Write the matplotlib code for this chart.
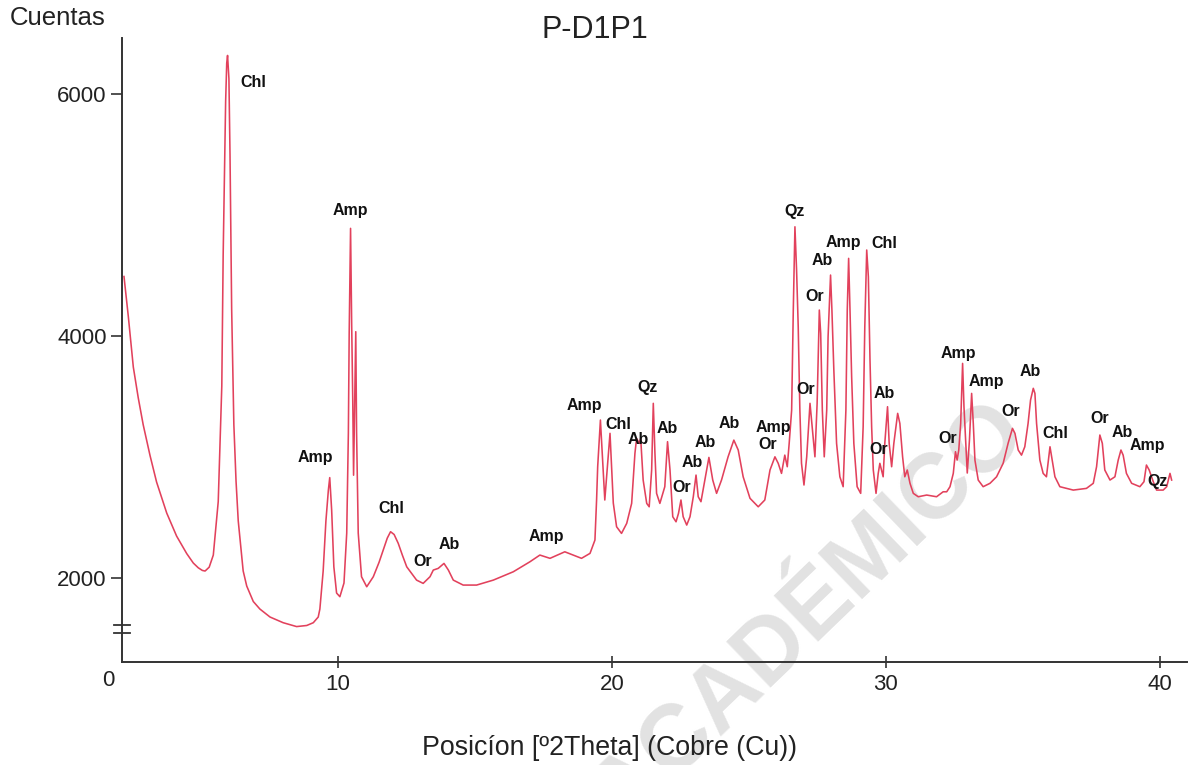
import matplotlib
matplotlib.use('Agg')
import matplotlib.pyplot as plt
import matplotlib.transforms as mtransforms

plt.rcParams['font.family'] = ['Liberation Sans', 'DejaVu Sans']

# difractograma (posicion 2theta, cuentas)
two_theta = [
    2.19, 2.35, 2.53, 2.71, 2.89, 3.14, 3.38, 3.75, 4.11, 4.48, 4.72, 4.90, 5.05, 5.15,
    5.30, 5.45, 5.63, 5.76, 5.81, 5.90, 5.94, 5.97,
    6.02, 6.06, 6.12, 6.20, 6.28, 6.36, 6.54, 6.67, 6.91, 7.15, 7.52, 8.00, 8.49, 8.86,
    9.10, 9.28, 9.34, 9.46, 9.56, 9.65,
    9.70, 9.77, 9.85, 9.95, 10.07, 10.22, 10.32, 10.38, 10.41, 10.44, 10.46, 10.50, 10.54,
    10.57, 10.61, 10.65, 10.68, 10.74, 10.86, 11.05, 11.29, 11.50, 11.65, 11.80, 11.92,
    12.05, 12.20, 12.35, 12.51,
    12.87, 13.11, 13.36, 13.48, 13.66, 13.87, 14.03, 14.21, 14.57, 15.06, 15.67, 16.40,
    17.01, 17.37, 17.74, 18.28, 18.59, 18.89, 19.20, 19.38, 19.44, 19.48, 19.58, 19.74,
    19.93, 20.05, 20.17, 20.35, 20.54, 20.72, 20.84, 20.90, 21.00, 21.05, 21.14, 21.27,
    21.36, 21.45, 21.51, 21.57, 21.63, 21.75, 21.93, 22.03, 22.12, 22.22, 22.34, 22.43,
    22.52, 22.60, 22.73, 22.85, 22.97, 23.07, 23.15, 23.25, 23.39, 23.54, 23.68, 23.82,
    24.00, 24.24, 24.45, 24.61, 24.79, 25.04, 25.34, 25.58, 25.77, 25.95, 26.07, 26.19,
    26.31, 26.40, 26.47, 26.56, 26.62, 26.68, 26.74, 26.80, 26.86, 26.92, 27.01, 27.11,
    27.23, 27.31, 27.41, 27.49, 27.57, 27.62, 27.68, 27.75, 27.84, 27.89, 27.98, 28.03,
    28.10, 28.20, 28.32, 28.44, 28.54, 28.59, 28.64, 28.69, 28.75, 28.83, 28.95, 29.08,
    29.17, 29.23, 29.30, 29.36, 29.42, 29.48, 29.54, 29.64, 29.72, 29.78, 29.90, 29.96,
    30.06, 30.12, 30.21, 30.29, 30.43, 30.51, 30.61, 30.69, 30.78, 30.88, 31.00, 31.18,
    31.49, 31.85, 32.09, 32.22, 32.34, 32.46, 32.54, 32.60, 32.66, 32.73, 32.80, 32.85,
    32.91, 32.97, 33.05, 33.13, 33.19, 33.25, 33.37, 33.55, 33.80, 34.04, 34.28, 34.46,
    34.62, 34.71, 34.83, 34.95, 35.07, 35.19, 35.28, 35.38, 35.44, 35.50, 35.62, 35.74,
    35.86, 35.99, 36.07, 36.17, 36.35, 36.84, 37.32, 37.57, 37.69, 37.81, 37.90, 37.99,
    38.18, 38.36, 38.48, 38.58, 38.66, 38.78, 38.97, 39.27, 39.42, 39.51, 39.61, 39.76,
    39.88, 40.12, 40.25, 40.37, 40.43,
]
counts = [
    4492, 4157, 3744, 3490, 3268, 3013, 2793, 2537, 2347, 2202, 2124, 2085, 2063, 2058,
    2090, 2190, 2632, 3587, 4669, 5938, 6256, 6319,
    6128, 5496, 4223, 3268, 2800, 2473, 2059, 1934, 1806, 1744, 1678, 1631, 1599, 1608,
    1631, 1678, 1744, 2058, 2471, 2727,
    2830, 2562, 2093, 1876, 1846, 1959, 2372, 3198, 4025, 4573, 4890, 4107, 3471,
    2850, 3471, 4036, 3198, 2372, 2011, 1928, 2011, 2130, 2231, 2330, 2383,
    2360, 2287, 2190, 2093,
    1983, 1956, 2011, 2066, 2080, 2121, 2066, 1983, 1942, 1942, 1983, 2052,
    2135, 2190, 2163, 2217, 2190, 2163, 2204, 2314, 2645, 2920, 3306, 2645,
    3196, 2620, 2424, 2369, 2452, 2617, 3031, 3154, 3113, 3154, 2810, 2617,
    2589, 2893, 3444, 3031, 2700, 2617, 2755, 3127, 2893, 2507, 2465, 2535,
    2645, 2507, 2438, 2507, 2672, 2851, 2672, 2631, 2810, 2997, 2810, 2700,
    2810, 3002, 3140, 3058, 2837, 2659, 2589, 2645, 2893, 3002, 2948, 2865,
    3016, 2920, 3113, 3388, 4215, 4903, 4545, 4077, 3388, 2948, 2769, 3002,
    3444, 3250, 3002, 3444, 4215, 4022, 3388, 3002, 3388, 3994, 4504, 4215,
    3719, 3113, 2837, 2755, 3388, 4215, 4642, 4215, 3664, 3113, 2755, 2700,
    3250, 4077, 4711, 4490, 3802, 3250, 2893, 2700, 2865, 2948, 2837, 3113,
    3416, 3113, 2920, 3113, 3361, 3278, 3002, 2837, 2893, 2783, 2700, 2672,
    2686, 2672, 2713, 2713, 2755, 2865, 3044, 2975, 3058, 3278, 3774, 3416,
    3140, 2868, 3140, 3526, 3278, 2975, 2810, 2755, 2783, 2837, 2948, 3113,
    3237, 3196, 3058, 3016, 3085, 3278, 3471, 3568, 3526, 3278, 2975, 2865,
    2837, 3085, 2975, 2837, 2755, 2727, 2741, 2783, 2920, 3182, 3113, 2893,
    2810, 2837, 2975, 3058, 3016, 2865, 2783, 2755, 2796, 2934, 2893, 2796,
    2727, 2727, 2755, 2865, 2810,
]

# identificacion de fases (texto, posicion 2theta, cuentas)
phase_names = ['Chl', 'Amp', 'Amp', 'Chl', 'Or', 'Ab', 'Amp', 'Amp', 'Chl', 'Ab', 'Qz',
               'Ab', 'Ab', 'Ab', 'Or', 'Ab', 'Amp', 'Or', 'Qz', 'Ab', 'Or', 'Amp', 'Chl',
               'Or', 'Ab', 'Or', 'Amp', 'Amp', 'Or', 'Ab', 'Or', 'Chl', 'Or', 'Ab', 'Amp', 'Qz']
phase_x = [6.90, 10.44, 9.16, 11.93, 13.10, 14.05, 17.59, 19.01, 20.22, 20.95, 21.31,
           22.01, 23.39, 22.92, 22.55, 24.27, 25.88, 25.69, 26.68, 27.66, 27.41, 28.43, 29.93,
           27.08, 29.93, 29.74, 32.63, 33.65, 32.26, 35.26, 34.56, 36.17, 37.81, 38.61, 39.56, 39.93]
phase_y = [6099, 5041, 3000, 2578, 2140, 2281, 2347, 3430, 3273, 3149, 3578,
           3240, 3124, 2959, 2752, 3281, 3248, 3107, 5033, 4628, 4330, 4777, 4768,
           3562, 3529, 3066, 3859, 3628, 3157, 3711, 3380, 3198, 3322, 3207, 3099, 2802]

y_ticks = [2000, 4000, 6000]
x_ticks = [10, 20, 30, 40]

fig = plt.figure(figsize=(11.89, 7.65), dpi=100)
ax = fig.add_axes([0.1026, 0.1346, 0.8957, 0.8157])

# marca de agua (detras de los ejes)
fig.text(0.682, 0.198, 'ACADÉMICO', rotation=44, fontsize=66, fontweight='bold',
         color='#e2e2e2', ha='center', va='center', zorder=-1)

ax.plot(two_theta, counts, color='#e2415c', lw=1.15, zorder=3)
ax.patch.set_alpha(0)

for name, px, py in zip(phase_names, phase_x, phase_y):
    ax.text(px, py, name, ha='center', va='center', fontsize=11.5, fontweight='bold',
            color='#111111', zorder=4)

ax.set_xlim(2.117, 40.99)
ax.set_ylim(1306, 6463)
ax.spines['top'].set_visible(False)
ax.spines['right'].set_visible(False)
for s in ['left', 'bottom']:
    ax.spines[s].set_color('#333333')
    ax.spines[s].set_linewidth(1.4)

ax.set_xticks(x_ticks)
ax.set_yticks(y_ticks)
ax.tick_params(axis='x', direction='inout', length=9, width=1.2, colors='#333333',
               labelsize=16, labelcolor='#222222', pad=4)
ax.tick_params(axis='y', direction='out', length=8, width=1.2, colors='#333333',
               labelsize=16, labelcolor='#222222', pad=3)

# corte del eje y
trans = mtransforms.blended_transform_factory(ax.transAxes, ax.transData)
for yb in [1612, 1545]:
    ax.plot([-0.0075, 0.0075], [yb, yb], transform=trans, color='#333333', lw=1.3,
            clip_on=False)

fig.text(108 / 1189, 1 - 680 / 765, '0', fontsize=16, color='#222222', ha='center', va='center')
fig.text(10 / 1189, 1 - 18 / 765, 'Cuentas', fontsize=18.5, color='#222222', ha='left', va='center')
fig.text(595 / 1189, 1 - 30 / 765, 'P-D1P1', fontsize=22, color='#222222', ha='center', va='center')
fig.text(609 / 1189, 1 - 748 / 765, 'Posicíon [º2Theta] (Cobre (Cu))', fontsize=19.3,
         color='#222222', ha='center', va='center')

fig.savefig('out.png', dpi=100)
